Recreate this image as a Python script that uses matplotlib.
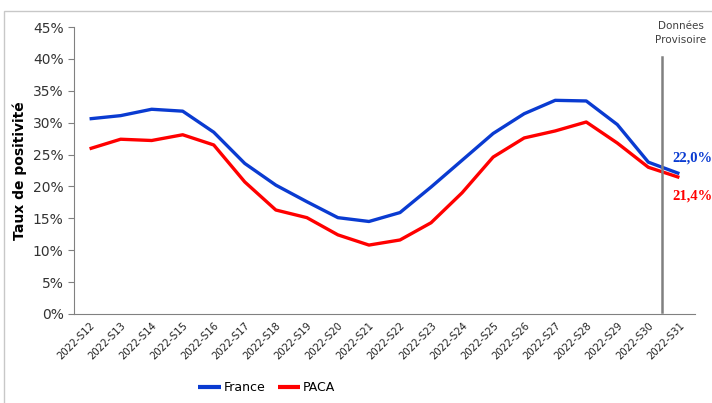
import matplotlib
matplotlib.use("Agg")
import matplotlib.pyplot as plt
from matplotlib.ticker import FuncFormatter
from matplotlib.patches import Rectangle

weeks = ["2022-S%d" % w for w in range(12, 32)]
france = [30.6, 31.1, 32.1, 31.8, 28.5, 23.6, 20.2, 17.6, 15.1, 14.5,
          15.9, 19.9, 24.1, 28.3, 31.4, 33.5, 33.4, 29.7, 23.8, 22.0]
paca = [25.9, 27.4, 27.2, 28.1, 26.5, 20.7, 16.3, 15.1, 12.4, 10.8,
        11.6, 14.3, 19.0, 24.6, 27.6, 28.7, 30.1, 26.8, 23.0, 21.4]
provisional_at = 18.44

blue = "#0a3bd1"
red = "#ff0000"
grey = "#808080"

fig = plt.figure(figsize=(7.12, 4.03), dpi=100)
ax = fig.add_axes([0.104, 0.221, 0.872, 0.712])
fig.patches.append(Rectangle((0.006, -0.1), 1.2, 1.073, transform=fig.transFigure,
                             fill=False, edgecolor="#c8c8c8", lw=1))

x = range(len(weeks))
ax.plot(x, france, color=blue, lw=2.4, label="France", solid_capstyle="butt")
ax.plot(x, paca, color=red, lw=2.4, label="PACA", solid_capstyle="butt")
ax.plot([provisional_at, provisional_at], [0.3, 40.3], color=grey, lw=1.8)

ax.set_xlim(-0.5, len(weeks) - 0.5)
ax.set_ylim(0, 45)
ax.set_yticks(range(0, 46, 5))
ax.yaxis.set_major_formatter(FuncFormatter(lambda v, p: "%d%%" % v))
ax.set_xticks(list(x))
ax.set_xticklabels(weeks, rotation=45, ha="right", rotation_mode="anchor", fontsize=7.2)
ax.tick_params(axis="y", labelsize=10, colors="#333333", length=4, color=grey)
ax.tick_params(axis="x", length=0, pad=5, colors="#222222")
for s in ["top", "right"]:
    ax.spines[s].set_visible(False)
ax.spines["left"].set_color(grey)
ax.spines["bottom"].set_color(grey)
ax.set_ylabel("Taux de positivité", fontsize=10, fontweight="bold", labelpad=4)

ax.text(18.76, france[-1] + 2.4, "22,0%", color=blue, fontsize=10.5,
        fontweight="bold", family="Liberation Serif", ha="left", va="center", clip_on=False)
ax.text(18.76, paca[-1] - 2.9, "21,4%", color=red, fontsize=10.5,
        fontweight="bold", family="Liberation Serif", ha="left", va="center", clip_on=False)
ax.text(18.22, 44.0, "Données\nProvisoire", color="#404040", fontsize=7.5,
        ha="left", va="center", multialignment="center", linespacing=1.5, clip_on=False)

ax.legend(loc="center", bbox_to_anchor=(0.31, -0.258), ncol=2, frameon=False,
          fontsize=9, handlelength=1.8, handletextpad=0.2, columnspacing=1.0)
for line in ax.get_legend().get_lines():
    line.set_linewidth(3)

fig.savefig("out.png", dpi=100)
